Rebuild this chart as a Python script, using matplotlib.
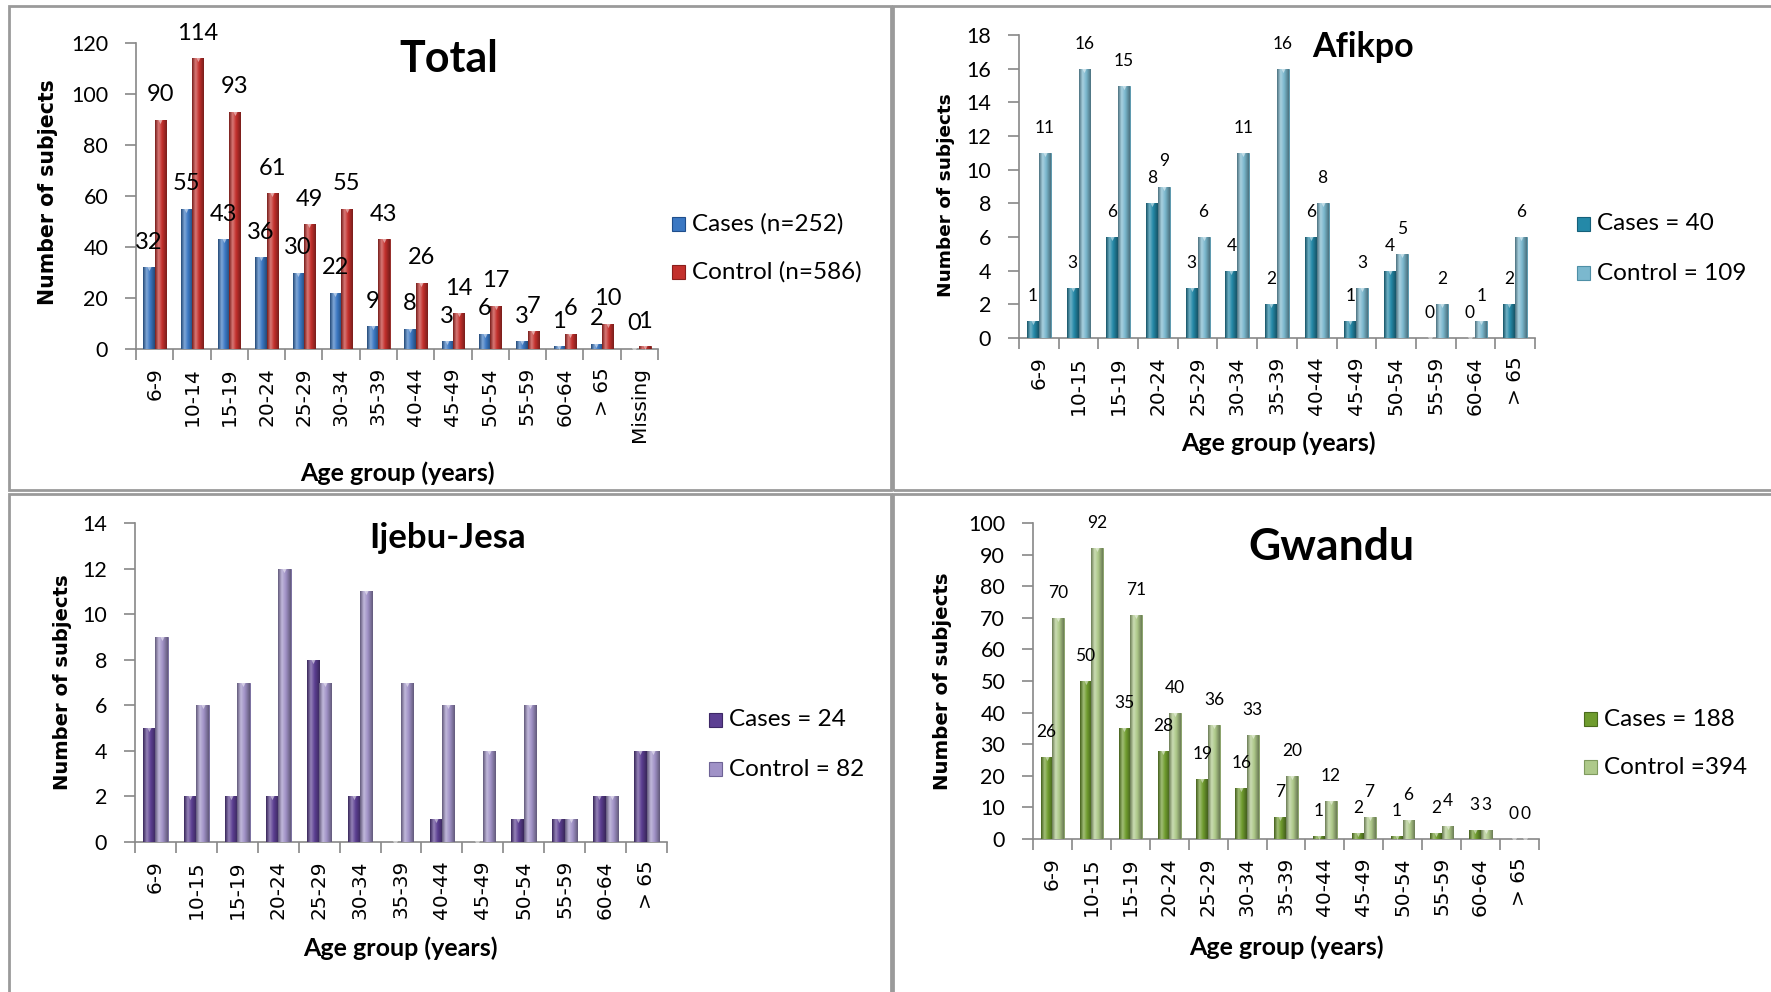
import matplotlib
matplotlib.use('Agg')
import matplotlib.pyplot as plt
from matplotlib.patches import Rectangle
from matplotlib.colors import to_rgb
import numpy as np

# ---------------- data ----------------
total_cats = ['6-9', '10-14', '15-19', '20-24', '25-29', '30-34', '35-39', '40-44',
              '45-49', '50-54', '55-59', '60-64', '> 65', 'Missing']
total_cases = [32, 55, 43, 36, 30, 22, 9, 8, 3, 6, 3, 1, 2, 0]
total_control = [90, 114, 93, 61, 49, 55, 43, 26, 14, 17, 7, 6, 10, 1]

site_cats = ['6-9', '10-15', '15-19', '20-24', '25-29', '30-34', '35-39', '40-44',
             '45-49', '50-54', '55-59', '60-64', '> 65']
afikpo_cases = [1, 3, 6, 8, 3, 4, 2, 6, 1, 4, 0, 0, 2]
afikpo_control = [11, 16, 15, 9, 6, 11, 16, 8, 3, 5, 2, 1, 6]
ijebu_cases = [5, 2, 2, 2, 8, 2, 0, 1, 0, 1, 1, 2, 4]
ijebu_control = [9, 6, 7, 12, 7, 11, 7, 6, 4, 6, 1, 2, 4]
gwandu_cases = [26, 50, 35, 28, 19, 16, 7, 1, 2, 1, 2, 3, 0]
gwandu_control = [70, 92, 71, 40, 36, 33, 20, 12, 7, 6, 4, 3, 0]

legend_total = ['Cases (n=252)', 'Control (n=586)']
legend_afikpo = ['Cases = 40', 'Control = 109']
legend_ijebu = ['Cases = 24', 'Control = 82']
legend_gwandu = ['Cases = 188', 'Control =394']

# ---------------- layout ----------------
W, H = 1771, 992
fig = plt.figure(figsize=(W / 100, H / 100), dpi=100)
fig.patch.set_facecolor('white')

FONT = ['Lato', 'DejaVu Sans']
TICK_FONT = ['DejaVu Sans']
YLAB_FONT = ['DejaVu Sans']


def fx(x):
    return x / W


def fy(y):
    return 1 - y / H


def add_axes_px(l, t, r, b):
    return fig.add_axes([l / W, 1 - b / H, (r - l) / W, (b - t) / H])


def gradient_row(color, n=40):
    c = np.array(to_rgb(color))
    dark = c * 0.62
    light = c + (1 - c) * 0.35
    stops = [(0.0, dark), (0.3, light), (0.6, c), (1.0, dark)]
    t = np.linspace(0, 1, n)
    out = np.zeros((1, n, 3))
    for k in range(3):
        out[0, :, k] = np.interp(t, [s[0] for s in stops], [s[1][k] for s in stops])
    return out


# panel borders
for (l, t, r, b) in [(9, 6, 891, 490), (893, 6, 1790, 490),
                     (9, 494, 891, 1010), (893, 494, 1790, 1010)]:
    fig.add_artist(Rectangle((fx(l), fy(b)), (r - l) / W, (b - t) / H,
                             transform=fig.transFigure, fill=False,
                             edgecolor='#9a9a9a', linewidth=2.0))


def shade_bars(ax, bars, color):
    g = gradient_row(color)
    for p in bars:
        h = p.get_height()
        if h <= 0:
            continue
        x0 = p.get_x()
        im = ax.imshow(g, extent=[x0, x0 + p.get_width(), 0, h], aspect='auto',
                       zorder=3.2, interpolation='bilinear')
        im.set_clip_path(p)


def draw_panel(box, cats, cases, control, col_cases, col_ctrl, edge_cases, edge_ctrl,
               ymax, ystep, title, tsize, tpos, labels, lsize, leg, legpos, legdy,
               xlabpos, ylabpos, ylsize):
    ax = add_axes_px(*box)
    n = len(cats)
    x = np.arange(n)
    w = 0.3
    b1 = ax.bar(x - w / 2, cases, width=w, color=col_cases, edgecolor=edge_cases,
                linewidth=0.6, zorder=3)
    b2 = ax.bar(x + w / 2, control, width=w, color=col_ctrl, edgecolor=edge_ctrl,
                linewidth=0.6, zorder=3)
    shade_bars(ax, b1, col_cases)
    shade_bars(ax, b2, col_ctrl)
    # small triangle caps (3D-style highlight)
    ax.scatter(x - w / 2, cases, marker='v', s=26, color='#ffffff', alpha=0.5,
               zorder=4, linewidths=0)
    ax.scatter(x + w / 2, control, marker='v', s=26, color='#ffffff', alpha=0.5,
               zorder=4, linewidths=0)
    if labels:
        for xi, v in zip(x, cases):
            ax.annotate(str(v), (xi - w / 2, v), xytext=(0, 18), textcoords='offset points',
                        ha='center', va='center', fontsize=lsize, family=FONT, zorder=6)
        for xi, v in zip(x, control):
            ax.annotate(str(v), (xi + w / 2, v), xytext=(0, 18), textcoords='offset points',
                        ha='center', va='center', fontsize=lsize, family=FONT, zorder=6)
    ax.set_xlim(-0.5, n - 0.5)
    ax.set_ylim(0, ymax)
    ax.set_aspect('auto')
    ax.set_yticks(np.arange(0, ymax + 0.001, ystep))
    ax.set_yticklabels([str(int(v)) for v in np.arange(0, ymax + 0.001, ystep)],
                       family=FONT, fontsize=15.5)
    ax.set_xticks(x)
    ax.set_xticklabels(cats, rotation=90, family=TICK_FONT, fontsize=14.5)
    ax.set_xticks(np.arange(-0.5, n, 1.0), minor=True)
    ax.tick_params(axis='x', which='major', length=0, pad=13)
    ax.tick_params(axis='x', which='minor', length=8, color='#888888', width=1.2,
                   direction='out')
    ax.tick_params(axis='y', length=8, color='#888888', width=1.2, pad=12)
    for s in ['top', 'right']:
        ax.spines[s].set_visible(False)
    for s in ['left', 'bottom']:
        ax.spines[s].set_color('#888888')
        ax.spines[s].set_linewidth(1.2)
    ax.set_facecolor('none')
    # title
    fig.text(fx(tpos[0]), fy(tpos[1]), title, ha='center', va='baseline',
             fontsize=tsize, fontweight='bold', family=FONT)
    # axis labels
    fig.text(fx(xlabpos[0]), fy(xlabpos[1]), 'Age group (years)', ha='center',
             va='center', fontsize=18, fontweight='bold', family=FONT)
    fig.text(fx(ylabpos[0]), fy(ylabpos[1]), 'Number of subjects', ha='center',
             va='center', rotation=90, fontsize=ylsize, fontweight='bold', family=YLAB_FONT)
    # legend
    lx, ly = legpos
    for i, (lab, fc, ec) in enumerate(zip(leg, [col_cases, col_ctrl], [edge_cases, edge_ctrl])):
        yy = ly + i * legdy
        fig.add_artist(Rectangle((fx(lx), fy(yy + 7)), 13 / W, 14 / H,
                                 transform=fig.transFigure, facecolor=fc,
                                 edgecolor=ec, linewidth=0.8))
        fig.text(fx(lx + 20), fy(yy), lab, ha='left', va='center', fontsize=17.5,
                 family=FONT)
    return ax


draw_panel((136, 43, 658, 349), total_cats, total_cases, total_control,
           '#3B78C3', '#C3302C', '#1F4E8C', '#8A1E1B',
           120, 20, 'Total', 31, (449, 72), True, 17, legend_total, (672, 224), 48,
           (397, 473), (48, 192), 14.8)

draw_panel((1019, 35, 1535, 338), site_cats, afikpo_cases, afikpo_control,
           '#2489A8', '#7BB8CE', '#15607A', '#4E8FA6',
           18, 2, 'Afikpo', 24.5, (1363, 57), True, 12.5, legend_afikpo, (1577, 224), 49,
           (1278, 443), (946, 195), 13.3)

draw_panel((135, 523, 667, 842), site_cats, ijebu_cases, ijebu_control,
           '#5C3F92', '#A092C7', '#3D2866', '#6E6396',
           14, 2, 'Ijebu-Jesa', 25, (448, 548), False, 12, legend_ijebu, (709, 720), 49,
           (400, 948), (62, 682), 14.1)

draw_panel((1033, 523, 1539, 839), site_cats, gwandu_cases, gwandu_control,
           '#6F9C2E', '#AEC98A', '#4A6B1C', '#7F9A5E',
           100, 10, 'Gwandu', 32, (1331, 560), True, 12.5, legend_gwandu, (1584, 719), 48,
           (1286, 947), (943, 681), 14.2)

fig.savefig('out.png', dpi=100, facecolor='white')
